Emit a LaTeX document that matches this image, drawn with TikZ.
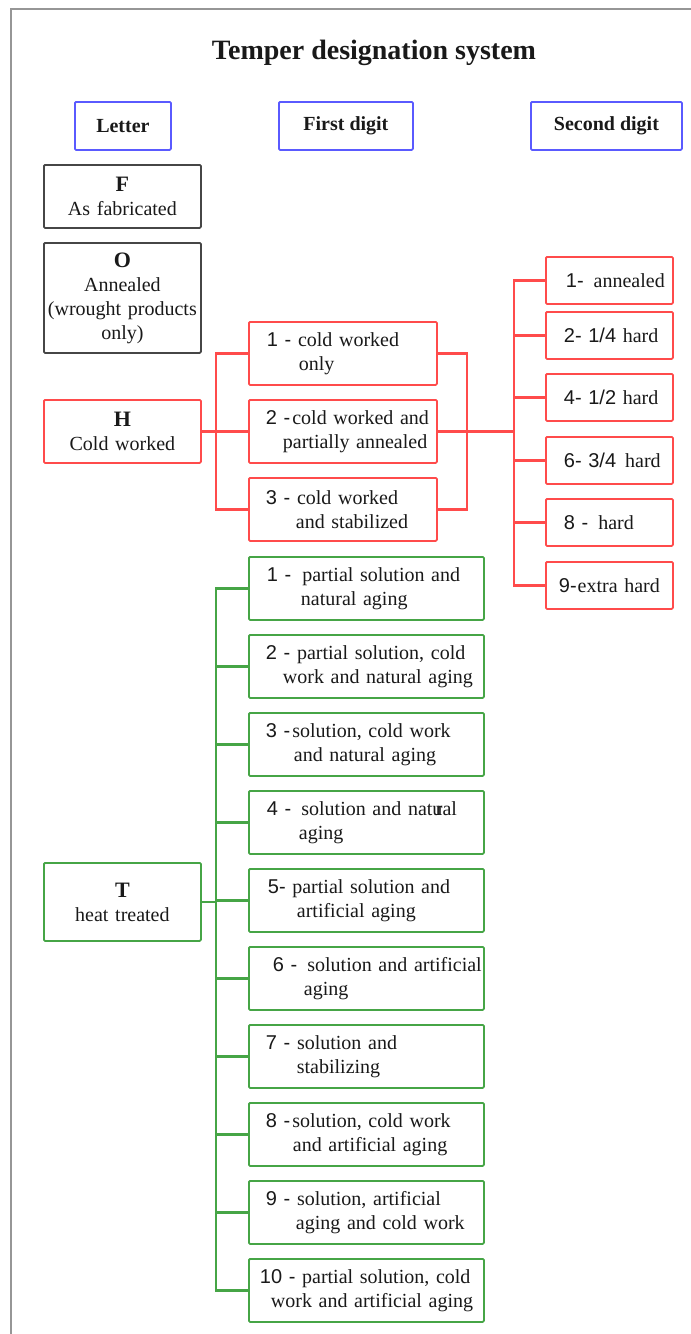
\documentclass[tikz,border=0pt]{standalone}
\usepackage{fontspec}
\setmainfont{Liberation Serif}
\newfontfamily\arialf{Liberation Sans}
\definecolor{myred}{RGB}{255,75,75}
\definecolor{mygreen}{RGB}{70,165,70}
\definecolor{myblue}{RGB}{90,90,255}
\definecolor{mygray}{RGB}{70,70,70}
\definecolor{bordergray}{RGB}{150,150,150}
\definecolor{txt}{RGB}{25,25,25}
\newcommand\dgt[1]{{\arialf #1}}
\tikzset{
  common/.style={draw, line width=1.8pt, rounded corners=1.2pt, inner xsep=0pt, inner ysep=0pt,
    font=\fontsize{20}{24}\selectfont, text=txt, anchor=north west},
  headbox/.style={common, draw=myblue, align=center, font=\bfseries\fontsize{20}{24}\selectfont, minimum height=48pt},
  letterbox/.style={common, text width=157pt, align=center},
  hbox/.style={common, draw=myred, text width=188pt, minimum height=63pt, align=left},
  sbox/.style={common, draw=myred, text width=127pt, minimum height=47pt, align=left},
  gbox/.style={common, draw=mygreen, text width=235pt, minimum height=63pt, align=left},
  redline/.style={draw=myred, line width=2.2pt},
  greenline/.style={draw=mygreen, line width=2.2pt},
}
\begin{document}
\begin{tikzpicture}[x=1pt,y=-1pt]
\useasboundingbox (0,0) rectangle (691,1334);
\fill[white] (0,0) rectangle (691,1334);
% frame
\draw[bordergray, line width=2.5pt] (11,1334) -- (11,9) -- (691,9);
% title
\node[font=\bfseries\fontsize{28}{32}\selectfont, text=txt] (title) at (374,53) {Temper designation system};
% headers
\node[headbox, minimum width=96pt] (hl) at (74,101) {Letter};
\node[headbox, minimum width=134pt] (hf) at (278,101) {First digit};
\node[headbox, minimum width=151pt] (hs) at (530,101) {Second digit};
% letter boxes
\node[letterbox, draw=mygray, minimum height=63pt] (lF) at (43,164) {{\bfseries\fontsize{22}{24}\selectfont F}\\As fabricated};
\node[letterbox, draw=mygray, minimum height=110pt] (lO) at (43,242) {{\bfseries\fontsize{22}{24}\selectfont O}\\Annealed\\\mbox{(wrought products}\\only)};
\node[letterbox, draw=myred, minimum height=63pt] (lH) at (43,399) {{\bfseries\fontsize{22}{24}\selectfont H}\\Cold worked};
\node[letterbox, draw=mygreen, minimum height=78pt] (lT) at (43,862) {{\bfseries\fontsize{22}{24}\selectfont T}\\heat treated};
% H first digit
\node[hbox] (h1) at (248,321) {\hspace*{18pt}\mbox{\dgt{1 -} cold worked}\\\hspace*{50pt}only};
\node[hbox] (h2) at (248,399) {\hspace*{17pt}\mbox{\dgt{2 -}\hspace{2pt}cold worked and}\\\hspace*{34pt}\mbox{partially annealed}};
\node[hbox] (h3) at (248,477) {\hspace*{17pt}\mbox{\dgt{3 -} cold worked}\\\hspace*{47pt}\mbox{and stabilized}};
% H second digit
\node[sbox] (s1) at (545,256) {\hspace*{20pt}\mbox{\dgt{1-}\hspace{10pt}annealed}};
\node[sbox] (s2) at (545,311) {\hspace*{18pt}\mbox{\dgt{2- 1/4} hard}};
\node[sbox] (s4) at (545,373) {\hspace*{18pt}\mbox{\dgt{4- 1/2} hard}};
\node[sbox] (s6) at (545,436) {\hspace*{18pt}\mbox{\dgt{6- 3/4}\hspace{9pt}hard}};
\node[sbox] (s8) at (545,498) {\hspace*{18pt}\mbox{\dgt{8 -}\hspace{10pt}hard}};
\node[sbox] (s9) at (545,561) {\hspace*{13pt}\mbox{\dgt{9-}\hspace{1pt}extra hard}};
% T first digit
\node[gbox] (t1) at (248,556) {\hspace*{18pt}\mbox{\dgt{1 -}\hspace{11pt}partial solution and}\\\hspace*{52pt}\mbox{natural aging}};
\node[gbox] (t2) at (248,634) {\hspace*{17pt}\mbox{\dgt{2 -} partial solution, cold}\\\hspace*{34pt}\mbox{work and natural aging}};
\node[gbox] (t3) at (248,712) {\hspace*{17pt}\mbox{\dgt{3 -}\hspace{2pt}solution, cold work}\\\hspace*{45pt}\mbox{and natural aging}};
\node[gbox] (t4) at (248,790) {\hspace*{18pt}\mbox{\dgt{4 -}\hspace{10pt}solution and nat{u}\kern-0.33em{r}al}\\\hspace*{50pt}aging};
\node[gbox] (t5) at (248,868) {\hspace*{19pt}\mbox{\dgt{5-} partial solution and}\\\hspace*{48pt}\mbox{artificial aging}};
\node[gbox] (t6) at (248,946) {\hspace*{24pt}\mbox{\dgt{6 -}\hspace{10pt}solution and artificial}\\\hspace*{55pt}aging};
\node[gbox] (t7) at (248,1024) {\hspace*{17pt}\mbox{\dgt{7 -} solution and}\\\hspace*{48pt}stabilizing};
\node[gbox] (t8) at (248,1102) {\hspace*{17pt}\mbox{\dgt{8 -}\hspace{2pt}solution, cold work}\\\hspace*{44pt}\mbox{and artificial aging}};
\node[gbox] (t9) at (248,1180) {\hspace*{17pt}\mbox{\dgt{9 -} solution, artificial}\\\hspace*{47pt}\mbox{aging and cold work}};
\node[gbox] (t10) at (248,1258) {\hspace*{11pt}\mbox{\dgt{10 -} partial solution, cold}\\\hspace*{22pt}\mbox{work and artificial aging}};
% junction coordinates
\coordinate (jx) at (216,0);
\coordinate (kx) at (467,0);
\coordinate (sx) at (514,0);
% H connectors
\draw[redline] (lH.east) -- (h2.west);
\draw[redline] (h1.west) -- (h1.west -| jx) -- (h3.west -| jx) -- (h3.west);
\draw[redline] (h1.east) -- (h1.east -| kx) -- (h3.east -| kx) -- (h3.east);
\draw[redline] (h2.east) -- (h2.east -| sx);
\draw[redline] (s1.west) -- (s1.west -| sx) -- (s9.west -| sx) -- (s9.west);
\foreach \n in {s2,s4,s6,s8} \draw[redline] (\n.west) -- (\n.west -| sx);
% T connectors
\draw[greenline] (lT.east) -- (lT.east -| jx);
\draw[greenline] (t1.west) -- (t1.west -| jx) -- (t10.west -| jx) -- (t10.west);
\foreach \n in {t2,t3,t4,t5,t6,t7,t8,t9} \draw[greenline] (\n.west) -- (\n.west -| jx);
\end{tikzpicture}
\end{document}
